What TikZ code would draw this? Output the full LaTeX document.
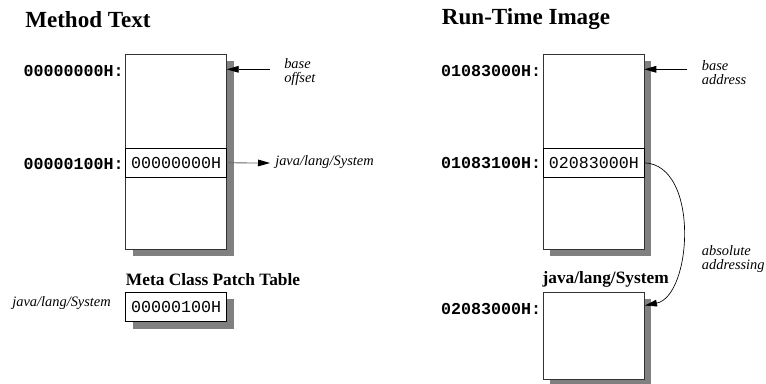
\documentclass[tikz,border=0pt]{standalone}
\usepackage{fontspec}
\setmainfont{Liberation Serif}[ItalicFont={Liberation Serif Italic},BoldFont={Liberation Serif Bold}]
\setmonofont{Liberation Mono}
\usetikzlibrary{arrows.meta,shadows}
\begin{document}
\begin{tikzpicture}[x=0.75pt,y=-0.75pt,
  memshadow/.style={drop shadow={shadow xshift=5.25pt,shadow yshift=-5.25pt,fill=black!50,opacity=1}},
  membox/.style={draw=black!80,line width=0.8pt,fill=white,minimum width=75.75pt,inner sep=0pt,outer sep=0pt},
  rowbox/.style={draw=black,line width=0.7pt,fill=white,minimum width=75.75pt,minimum height=21.75pt,inner sep=0pt,outer sep=0pt,font=\fontsize{12.5}{14}\ttfamily},
  addr/.style={anchor=east,inner sep=0pt,font=\fontsize{12.5}{14}\ttfamily\bfseries},
  title/.style={anchor=west,inner sep=0pt,font=\fontsize{17.3}{20}\selectfont\bfseries},
  subtitle/.style={anchor=west,inner sep=0pt,font=\fontsize{13}{15}\selectfont\bfseries},
  note/.style={anchor=west,inner sep=0pt,align=left,font=\fontsize{10.8}{10.5}\selectfont\itshape},
  ptr/.style={-{Triangle[length=9pt,width=5pt,color=black]},line width=0.6pt}]
\useasboundingbox (0,0) rectangle (766,383);
% titles
\node[title] (t1) at (25,19.5) {Method Text};
\node[title] (t2) at (441.7,19.5) {Run-Time Image};
% left memory box
\node[membox,memshadow,minimum height=146.25pt] (box1) at (176.2,151.8) {};
\node[rowbox] (row1) at (176.2,162.8) {00000000H};
\node[addr] (a1) at (124,71.5) {00000000H:};
\node[addr] (a2) at (124,163.5) {00000100H:};
% base offset
\coordinate (bo) at (270,69.3);
\draw[ptr] (bo) -- (bo -| box1.east);
\node[note] (n1) at (284,72.5) {base\\offset};
% java arrow
\coordinate (je) at (270,163);
\draw[ptr,draw=black!60] (row1.east) -- (je);
\node[note] (n2) at (275,162.5) {java/lang/System};
% meta class patch table
\node[subtitle] (t3) at (125.7,279.5) {Meta Class Patch Table};
\node[rowbox,memshadow,minimum height=22pt] (patch) at (176.2,307) {00000100H};
\node[note,anchor=east] (n3) at (111,303.5) {java/lang/System};
% right memory box
\node[membox,memshadow,minimum height=146.25pt] (box2) at (593.8,151.8) {};
\node[rowbox] (row2) at (593.8,162.8) {02083000H};
\node[addr] (a3) at (541.5,71.5) {01083000H:};
\node[addr] (a4) at (541.5,163.5) {01083100H:};
\coordinate (ba) at (687.3,69.3);
\draw[ptr] (ba) -- (ba -| box2.east);
\node[note] (n4) at (701.7,72.5) {base\\address};
% java/lang/System box
\node[subtitle] (t4) at (542.3,279.5) {java/lang/System};
\node[membox,memshadow,minimum height=65.5pt] (box3) at (593.8,335.8) {};
\node[addr] (a5) at (541.5,309.5) {02083000H:};
\coordinate (tgt) at (645,305.5);
\draw[ptr,line width=0.5pt] (row2.east) .. controls (700,165) and (692,296) .. (tgt);
\node[note] (n5) at (701.7,259.5) {absolute\\addressing};
\end{tikzpicture}
\end{document}
